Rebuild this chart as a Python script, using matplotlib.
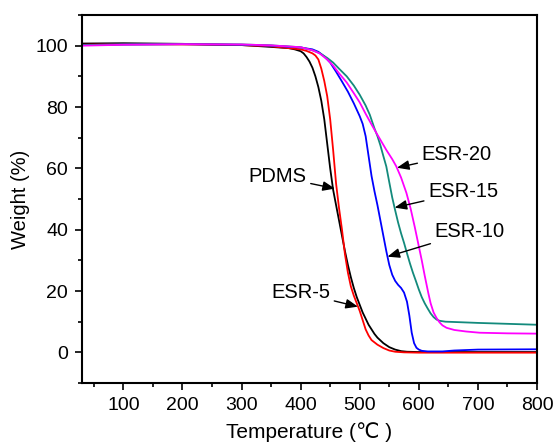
import matplotlib
matplotlib.use('Agg')
import matplotlib.pyplot as plt
from matplotlib.ticker import MultipleLocator

plt.rcParams['font.family'] = ['Liberation Sans', 'DejaVu Sans']

# thermogravimetric curves
pdms_t = [30, 100, 200, 300, 350, 380, 390, 400, 405, 410, 415, 420, 425, 430, 435, 440, 445,
          450, 455, 460, 465, 470, 475, 480, 485, 490, 495, 500, 505, 510, 515, 520, 525,
          530, 540, 550, 560, 570, 580, 600, 700, 800]
pdms_w = [100.7, 100.8, 100.6, 100.2, 99.6, 99.2, 98.8, 98.2, 97.5, 96.3, 94.8, 92.8, 90, 86.5, 82,
          76, 68, 60, 53, 48, 43, 38, 33, 28.5, 24.5, 21, 18, 15.5, 13, 11, 9, 7.5, 6,
          4.8, 3, 1.7, 0.9, 0.4, 0.2, 0.1, 0.1, 0.1]

esr5_t = [30, 100, 200, 300, 350, 400, 410, 420, 425, 430, 435, 440, 445, 450, 455, 460, 465,
          470, 475, 480, 485, 490, 495, 500, 505, 510, 515, 520, 530, 540, 550, 560, 575,
          600, 700, 800]
esr5_w = [100.3, 100.5, 100.4, 100.2, 99.8, 98.8, 98.3, 97.5, 96.8, 95.5, 92.5, 88.5, 83.5, 76,
          66, 55, 47, 40, 32, 26, 21.5, 18.5, 16, 13.5, 10.5, 7.5, 5.5, 4, 2.5, 1.4, 0.6,
          0.2, 0, -0.1, -0.1, -0.1]

esr10_t = [30, 100, 200, 300, 350, 400, 420, 430, 440, 450, 460, 470, 480, 490, 500, 505, 510,
           515, 520, 525, 530, 535, 540, 545, 550, 555, 560, 565, 570, 575, 580, 584, 588,
           592, 596, 600, 605, 615, 640, 660, 700, 800]
esr10_w = [100.2, 100.4, 100.5, 100.3, 100, 99.4, 98.8, 98, 96.5, 94.5, 91.5, 88.3, 85, 81.2, 77,
           74.5, 70.5, 64, 57.5, 52.5, 48, 43, 38, 33, 28.5, 25.3, 23.3, 22, 21, 19.5, 16.5,
           12, 6.4, 3, 1.5, 0.9, 0.5, 0.3, 0.3, 0.6, 0.9, 1.0]

esr15_t = [30, 100, 200, 300, 350, 400, 420, 432, 445, 455, 465, 478, 490, 500, 510, 517, 525,
           530, 535, 540, 545, 550, 555, 560, 565, 570, 575, 580, 585, 590, 595, 600, 605,
           610, 615, 620, 625, 630, 635, 645, 660, 700, 800]
esr15_w = [100.2, 100.4, 100.5, 100.4, 100.1, 99.5, 98.5, 97.6, 96, 94.5, 92.5, 90, 87, 84, 80.5,
           77.5, 73, 70.5, 67.5, 64, 60.6, 55.5, 50.5, 46.3, 42.3, 38.8, 35.7, 32.3, 29, 26,
           23.3, 20.5, 18, 16, 14.3, 12.7, 11.5, 10.7, 10.3, 10, 9.9, 9.6, 9.0]

esr20_t = [30, 100, 200, 300, 350, 400, 420, 432, 445, 455, 465, 478, 490, 500, 510, 520, 528,
           535, 545, 555, 562, 570, 579, 586, 593, 599, 605, 610, 616, 620, 625, 630, 635,
           640, 647, 660, 680, 703, 750, 800]
esr20_w = [100.0, 100.3, 100.5, 100.4, 100.1, 99.5, 98.5, 97.5, 95.5, 93.5, 91, 88, 84.5, 81.5,
           77.8, 74.3, 71.6, 69.3, 66, 63, 60.6, 57, 52, 47, 41, 35.5, 30, 25, 19.4, 16, 13,
           11.2, 9.8, 8.8, 8.0, 7.3, 6.8, 6.4, 6.2, 6.1]

# label text position, arrow tip
labels = ['PDMS', 'ESR-5', 'ESR-20', 'ESR-15', 'ESR-10']
label_xy = [(361, 57.3), (400, 19.4), (664, 64.5), (675, 52.3), (686, 39.3)]
arrow_xy = [(458, 53.4), (497, 14.9), (563, 60.2), (559, 47.2), (547, 31.2)]


def main():
    fig = plt.figure(figsize=(5.56, 4.43), dpi=100)
    ax = fig.add_axes([0.1475, 0.1354, 0.8183, 0.8307])

    lw = 1.3
    ax.plot(pdms_t, pdms_w, color='black', lw=lw)
    ax.plot(esr5_t, esr5_w, color='#ff0000', lw=lw)
    ax.plot(esr10_t, esr10_w, color='#0000ff', lw=lw)
    ax.plot(esr15_t, esr15_w, color='#138a7c', lw=lw)
    ax.plot(esr20_t, esr20_w, color='#ff00ff', lw=lw)

    for name, txt, tip in zip(labels, label_xy, arrow_xy):
        ax.annotate(name, xy=tip, xytext=txt, ha='center', va='center', fontsize=14.5,
                    arrowprops=dict(arrowstyle='-|>,head_length=0.5,head_width=0.2',
                                    color='black', lw=1.0, shrinkA=1, shrinkB=0))

    ax.set_xlim(30, 800)
    ax.set_ylim(-10, 110)
    ax.xaxis.set_major_locator(MultipleLocator(100))
    ax.xaxis.set_minor_locator(MultipleLocator(50))
    ax.yaxis.set_major_locator(MultipleLocator(20))
    ax.yaxis.set_minor_locator(MultipleLocator(10))
    ax.tick_params(which='both', direction='out', top=False, right=False,
                   labelsize=14, width=1.2)
    ax.tick_params(which='major', length=5, pad=5)
    ax.tick_params(which='minor', length=3)
    for s in ax.spines.values():
        s.set_linewidth(1.5)

    ax.set_xlabel('Temperature (\u2103 )', fontsize=15, labelpad=6)
    ax.set_ylabel('Weight (%)', fontsize=14.5, labelpad=4)

    fig.savefig('out.png', dpi=100)


if __name__ == '__main__':
    main()
